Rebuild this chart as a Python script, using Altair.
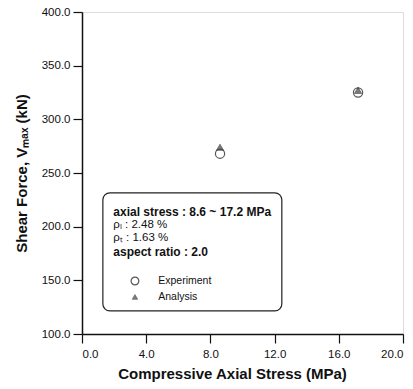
import altair as alt
import pandas as pd

# Data
stress = [8.6, 17.2]
experiment = [268, 325]
analysis = [274, 327]

x_ticks = [0, 2, 4, 6, 8, 10, 12, 14, 16, 18, 20]
y_ticks = [100, 125, 150, 175, 200, 225, 250, 275, 300, 325, 350, 375, 400]

box_x = [1.3, 12.45]
box_y = [231.5, 121.5]

info_lines = ["axial stress : 8.6 ~ 17.2 MPa", "ρₗ : 2.48 %", "ρₜ : 1.63 %", "aspect ratio : 2.0"]
info_y = [213.7, 201.6, 189.4, 176.4]
info_bold = ["bold", "normal", "normal", "bold"]
info_x = 1.95

legend_labels = ["Experiment", "Analysis"]
legend_y = [149.4, 134.5]
legend_marker_x = 3.3
legend_text_x = 4.75

FONT = "Liberation Sans"

df = pd.DataFrame({"stress": stress, "experiment": experiment, "analysis": analysis})
xs = alt.Scale(domain=[0, 20], nice=False, zero=False)
ys = alt.Scale(domain=[100, 400], nice=False, zero=False)

x_axis = alt.Axis(
    values=x_ticks, format=".1f", title="Compressive Axial Stress (MPa)",
    labelExpr="datum.value % 4 === 0 ? format(datum.value, '.1f') : ''",
    tickSize={"condition": {"test": "datum.value % 4 === 0", "value": 9}, "value": 5},
    grid=False, domainColor="#111", domainWidth=1.5, tickColor="#111", tickWidth=1.2,
    labelFont=FONT, labelFontSize=11.5, labelColor="#111", labelPadding=5,
    titleFont=FONT, titleFontSize=15, titleFontWeight="bold", titleColor="#111", titlePadding=7,
    titleX=150,
)
y_axis = alt.Axis(
    values=y_ticks, format=".1f", title="Shear Force, Vₘₐₓ (kN)",
    labelExpr="datum.value % 50 === 0 ? format(datum.value, '.1f') : ''",
    tickSize={"condition": {"test": "datum.value % 50 === 0", "value": 9}, "value": 5},
    grid=False, domainColor="#111", domainWidth=1.5, tickColor="#111", tickWidth=1.2,
    labelFont=FONT, labelFontSize=11.5, labelColor="#111", labelPadding=3,
    titleFont=FONT, titleFontSize=15, titleFontWeight="bold", titleColor="#111", titlePadding=12,
)

exp_pts = alt.Chart(df).mark_point(shape="circle", filled=False, size=85, color="#111", strokeWidth=1.2).encode(
    x=alt.X("stress:Q", scale=xs, axis=x_axis),
    y=alt.Y("experiment:Q", scale=ys, axis=y_axis),
)
ana_pts = alt.Chart(df).mark_point(shape="triangle-up", filled=True, size=50, color="#444", stroke="#111", strokeWidth=0.7).encode(
    x=alt.X("stress:Q", scale=xs),
    y=alt.Y("analysis:Q", scale=ys),
)

box_df = pd.DataFrame({"x1": [box_x[0]], "x2": [box_x[1]], "y1": [box_y[0]], "y2": [box_y[1]]})
box = alt.Chart(box_df).mark_rect(fill="white", stroke="#222", strokeWidth=1.2, cornerRadius=7).encode(
    x=alt.X("x1:Q", scale=xs), x2="x2:Q", y=alt.Y("y1:Q", scale=ys), y2="y2:Q"
)

info_df = pd.DataFrame({"t": info_lines, "y": info_y, "w": info_bold, "x": [info_x] * 4})
info_bold_df = info_df[info_df.w == "bold"]
info_norm_df = info_df[info_df.w == "normal"]
info_b = alt.Chart(info_bold_df).mark_text(align="left", baseline="middle", font=FONT, fontSize=12, fontWeight="bold", color="#111").encode(
    x=alt.X("x:Q", scale=xs), y=alt.Y("y:Q", scale=ys), text="t:N"
)
info_n = alt.Chart(info_norm_df).mark_text(align="left", baseline="middle", font=FONT, fontSize=11.5, color="#111").encode(
    x=alt.X("x:Q", scale=xs), y=alt.Y("y:Q", scale=ys), text="t:N"
)

leg_df = pd.DataFrame({"label": legend_labels, "y": legend_y, "mx": [legend_marker_x] * 2, "tx": [legend_text_x] * 2})
leg_circ = alt.Chart(leg_df.iloc[[0]]).mark_point(shape="circle", filled=False, size=60, color="#111", strokeWidth=1.2).encode(
    x=alt.X("mx:Q", scale=xs), y=alt.Y("y:Q", scale=ys)
)
leg_tri = alt.Chart(leg_df.iloc[[1]]).mark_point(shape="triangle-up", filled=True, size=30, color="#444", stroke="#111", strokeWidth=0.6).encode(
    x=alt.X("mx:Q", scale=xs), y=alt.Y("y:Q", scale=ys)
)
leg_txt = alt.Chart(leg_df).mark_text(align="left", baseline="middle", font=FONT, fontSize=10.5, color="#111").encode(
    x=alt.X("tx:Q", scale=xs), y=alt.Y("y:Q", scale=ys), text="label:N"
)

chart = alt.layer(exp_pts, ana_pts, box, info_b, info_n, leg_circ, leg_tri, leg_txt).properties(
    width=321, height=322,
    autosize=alt.AutoSizeParams(type="none"),
    padding={"left": 82, "top": 12, "right": 10, "bottom": 55},
).configure_view(stroke="#222", strokeWidth=1.5).configure(background="white")

chart.save("out.html", embed_options={"renderer": "svg", "actions": False})
